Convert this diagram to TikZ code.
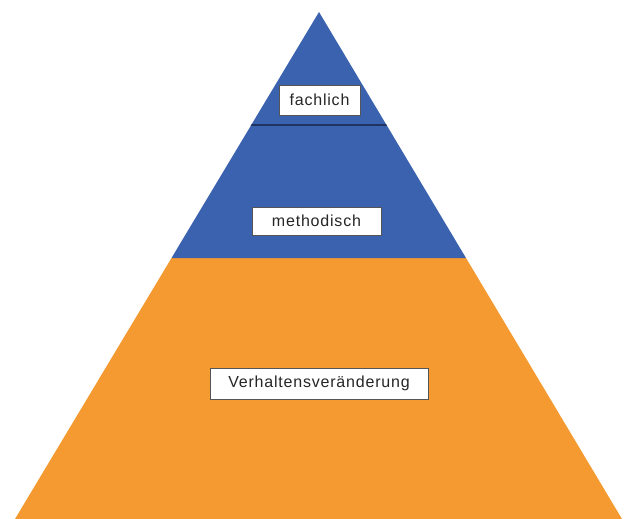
\documentclass[tikz,border=0pt]{standalone}
\usepackage{fontspec}
\setmainfont{Liberation Sans}
\definecolor{topblue}{HTML}{3A62AE}
\definecolor{baseorange}{HTML}{F49A30}
\definecolor{divider}{HTML}{1F3461}
\definecolor{boxline}{HTML}{555555}
\begin{document}
\begin{tikzpicture}[x=1pt,y=-1pt,
  label box/.style={draw=boxline, line width=0.9pt, fill=white, inner sep=0pt,
    font=\fontsize{16}{19}\selectfont\addfontfeature{LetterSpace=5}, text=black!85, anchor=center}]
\useasboundingbox (0,0) rectangle (629,519);
% corner points of the pyramid and of its bands
\coordinate (apex) at (319,12);
\coordinate (bl) at (15,519);
\coordinate (br) at (622,519);
\coordinate (ml) at (171.5,258);
\coordinate (mr) at (466,258);
\coordinate (dl) at (251.2,125);
\coordinate (dr) at (386.5,125);
% lower band
\fill[baseorange] (ml) -- (mr) -- (br) -- (bl) -- cycle;
% upper band
\fill[topblue] (apex) -- (mr) -- (ml) -- cycle;
% dividing line inside the upper band, kept within its edges
\begin{scope}
  \clip (apex) -- (mr) -- (ml) -- cycle;
  \draw[divider, line width=2pt] ([xshift=-3pt]dl) -- ([xshift=3pt]dr);
\end{scope}
% labels
\node[label box, minimum width=81, minimum height=30] (fach) at (319.5,100) {fachlich};
\node[label box, minimum width=129, minimum height=28] (meth) at (316.5,221) {methodisch};
\node[label box, minimum width=218, minimum height=31] (verh) at (319,383.5) {Verhaltensveränderung};
\end{tikzpicture}
\end{document}
